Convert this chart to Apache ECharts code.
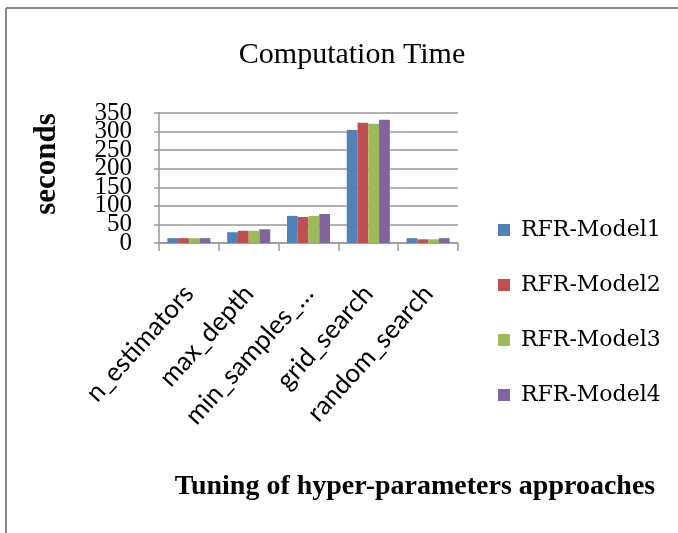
<!DOCTYPE html>
<html><head><meta charset="utf-8">
<script src="https://cdn.jsdelivr.net/npm/echarts@6/dist/echarts.min.js"></script>
<style>html,body{margin:0;padding:0;background:#fff}#c{width:678px;height:533px}</style>
</head><body><div id="c"></div>
<script>
const categories = ['n_estimators', 'max_depth', 'min_samples_split', 'grid_search', 'random_search'];
const seriesNames = ['RFR-Model1', 'RFR-Model2', 'RFR-Model3', 'RFR-Model4'];
const model1 = [13, 29, 73, 304, 13];
const model2 = [13, 33, 70, 324, 10];
const model3 = [13, 33, 73, 321, 10];
const model4 = [13, 37, 78, 332, 13];
const yTicks = [0, 50, 100, 150, 200, 250, 300, 350];
const colors = ['#4F81BD', '#C0504D', '#9BBB59', '#8064A2'];

const values = [model1, model2, model3, model4];
const yMin = yTicks[0], yMax = yTicks[yTicks.length - 1], yStep = yTicks[1] - yTicks[0];
const labelStyle = { margin: 27, color: '#000', fontFamily: 'Liberation Serif', fontSize: 25, lineHeight: 17,
                     showMinLabel: true, showMaxLabel: true };
const chart = echarts.init(document.getElementById('c'));
chart.setOption({
  animation: false,
  color: colors,
  title: [
    { text: 'Computation Time', left: 347, top: 35, textAlign: 'center',
      textStyle: { fontFamily: 'Liberation Serif', fontSize: 30, fontWeight: 'normal', color: '#000' } },
    { text: 'Tuning of hyper-parameters approaches', left: 410, top: 468, textAlign: 'center',
      textStyle: { fontFamily: 'Liberation Serif', fontSize: 28, fontWeight: 'bold', color: '#000' } }
  ],
  grid: { left: 159, top: 113, width: 299, height: 130, containLabel: false },
  legend: {
    orient: 'vertical', left: 493, top: 214, itemWidth: 12, itemHeight: 12, itemGap: 33,
    icon: 'rect',
    textStyle: { fontFamily: 'DejaVu Serif', fontSize: 22, color: '#000', padding: [0,0,0,6] },
    data: seriesNames
  },
  xAxis: {
    type: 'category', data: categories,
    axisLine: { lineStyle: { color: '#999', width: 1.5 } },
    axisTick: { show: true, length: 8, alignWithLabel: false, lineStyle: { color: '#999', width: 1.5 } },
    axisLabel: {
      interval: 0, rotate: 48, margin: 46, color: '#000',
      fontFamily: 'Lato', fontSize: 26,
      formatter: v => v.length > 13 ? v.slice(0, 12) + '…' : v
    }
  },
  yAxis: [
    {
      type: 'value', min: yMin, max: yMax, interval: yStep, position: 'left',
      axisLine: { show: true, lineStyle: { color: '#999', width: 1.5 } },
      axisTick: { show: true, length: 5, lineStyle: { color: '#999', width: 1.5 } },
      splitLine: { lineStyle: { color: '#999', width: 1.5 } },
      axisLabel: Object.assign({}, labelStyle, { formatter: v => (v % (2 * yStep) === 0 ? String(v) : '') })
    },
    {
      type: 'value', min: yMin, max: yMax, interval: yStep, position: 'left', offset: 0,
      axisLine: { show: false }, axisTick: { show: false }, splitLine: { show: false },
      axisLabel: Object.assign({}, labelStyle, { formatter: v => (v % (2 * yStep) !== 0 ? String(v) : '') })
    }
  ],
  graphic: [
    { type: 'line', shape: { x1: 6, y1: 8, x2: 678, y2: 8 }, style: { stroke: '#8a8a8a', lineWidth: 2 } },
    { type: 'line', shape: { x1: 6, y1: 8, x2: 6, y2: 533 }, style: { stroke: '#8a8a8a', lineWidth: 2 } },
    { type: 'text', x: 47, y: 164, rotation: Math.PI / 2,
      style: { text: 'seconds', fontFamily: 'Liberation Serif', fontSize: 31, fontWeight: 'bold',
               fill: '#000', align: 'center', verticalAlign: 'middle' } }
  ],
  series: seriesNames.map((n, i) => ({
    name: n, type: 'bar', data: values[i], barGap: '0%', barCategoryGap: '28%',
    itemStyle: { color: colors[i] }
  }))
});
</script></body></html>
